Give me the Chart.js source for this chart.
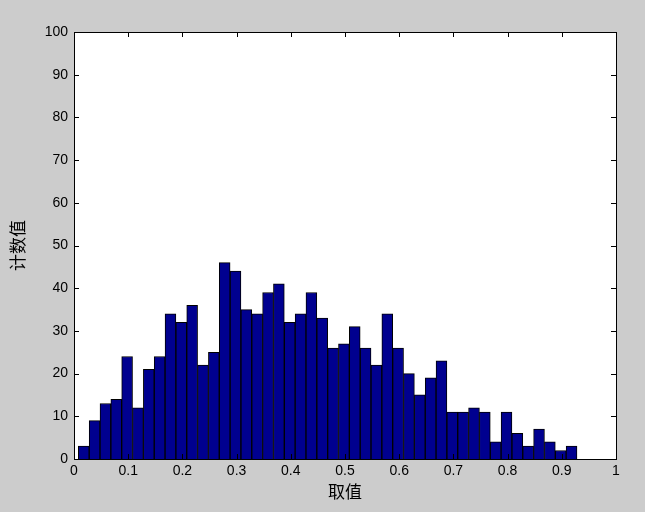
<!DOCTYPE html>
<html>
<head>
<meta charset="utf-8">
<script src="https://cdn.jsdelivr.net/npm/chart.js@4/dist/chart.umd.min.js"></script>
<style>
  html, body { margin:0; padding:0; background:#cccccc; }
  #wrap { width:645px; height:512px; position:relative; }
</style>
</head>
<body>
<div id="wrap"><canvas id="histChart" width="645" height="512"></canvas></div>
<script>
// ── data ──
const binStart = 0.018;   // centre of the first bin
const binWidth = 0.02;
const counts = [3, 9, 13, 14, 24, 12, 21, 24, 34, 32, 36, 22, 25, 46, 44, 35, 34, 39, 41, 32,
                34, 39, 33, 26, 27, 31, 26, 22, 34, 26, 20, 15, 19, 23, 11, 11, 12, 11, 4, 11,
                6, 3, 7, 4, 2, 3];
const xTicks = [0, 0.1, 0.2, 0.3, 0.4, 0.5, 0.6, 0.7, 0.8, 0.9, 1];
const yTicks = [0, 10, 20, 30, 40, 50, 60, 70, 80, 90, 100];
const xTitle = '取值';
const yTitle = '计数值';

const points = counts.map((c, i) => ({ x: +(binStart + i * binWidth).toFixed(3), y: c }));
const FONT = '"Liberation Sans", Arial, "Noto Sans CJK SC", sans-serif';

// white plot area, black frame, inward ticks on all four sides
const matlabAxes = {
  id: 'matlabAxes',
  beforeDatasetsDraw(chart) {
    const { ctx, chartArea: a } = chart;
    ctx.save();
    ctx.fillStyle = '#ffffff';
    ctx.fillRect(a.left, a.top, a.right - a.left, a.bottom - a.top);
    ctx.restore();
  },
  afterDatasetsDraw(chart) {
    const { ctx, chartArea: a, scales } = chart;
    const tl = 5;
    ctx.save();
    ctx.strokeStyle = '#000';
    ctx.lineWidth = 1;
    ctx.beginPath();
    xTicks.forEach(v => {
      const px = Math.round(scales.x.getPixelForValue(v)) + 0.5;
      ctx.moveTo(px, a.bottom); ctx.lineTo(px, a.bottom - tl);
      ctx.moveTo(px, a.top); ctx.lineTo(px, a.top + tl);
    });
    yTicks.forEach(v => {
      const py = Math.round(scales.y.getPixelForValue(v)) + 0.5;
      ctx.moveTo(a.left, py); ctx.lineTo(a.left + tl, py);
      ctx.moveTo(a.right, py); ctx.lineTo(a.right - tl, py);
    });
    ctx.stroke();
    ctx.strokeRect(Math.round(a.left) + 0.5, Math.round(a.top) + 0.5,
                   Math.round(a.right - a.left), Math.round(a.bottom - a.top));
    ctx.restore();
  }
};

new Chart(document.getElementById('histChart').getContext('2d'), {
  type: 'bar',
  data: {
    datasets: [{
      data: points,
      backgroundColor: '#00008f',
      borderColor: '#000000',
      borderWidth: 1,
      barPercentage: 1.0,
      categoryPercentage: 1.0,
      grouped: false
    }]
  },
  plugins: [matlabAxes],
  options: {
    responsive: false,
    animation: false,
    events: [],
    layout: { padding: { left: 0, right: 29, top: 32, bottom: 0 } },
    plugins: { legend: { display: false }, tooltip: { enabled: false } },
    scales: {
      x: {
        type: 'linear', min: 0, max: 1, offset: false,
        afterBuildTicks: s => { s.ticks = xTicks.map(v => ({ value: v })); },
        afterFit: s => { s.height = 53; },
        grid: { display: false, drawTicks: false },
        border: { display: false },
        ticks: { color: '#000', font: { family: FONT, size: 14 }, padding: 4, maxRotation: 0,
                 callback: v => String(v) },
        title: { display: true, text: xTitle, color: '#000', font: { family: FONT, size: 17 },
                 padding: { top: 0, bottom: 8 } }
      },
      y: {
        min: 0, max: 100,
        afterBuildTicks: s => { s.ticks = yTicks.map(v => ({ value: v })); },
        afterFit: s => { s.width = 74; },
        grid: { display: false, drawTicks: false },
        border: { display: false },
        ticks: { color: '#000', font: { family: FONT, size: 14 }, padding: 6 },
        title: { display: true, text: yTitle, color: '#000', font: { family: FONT, size: 17 },
                 padding: { top: 9, bottom: 0 } }
      }
    }
  }
});
</script>
</body>
</html>
